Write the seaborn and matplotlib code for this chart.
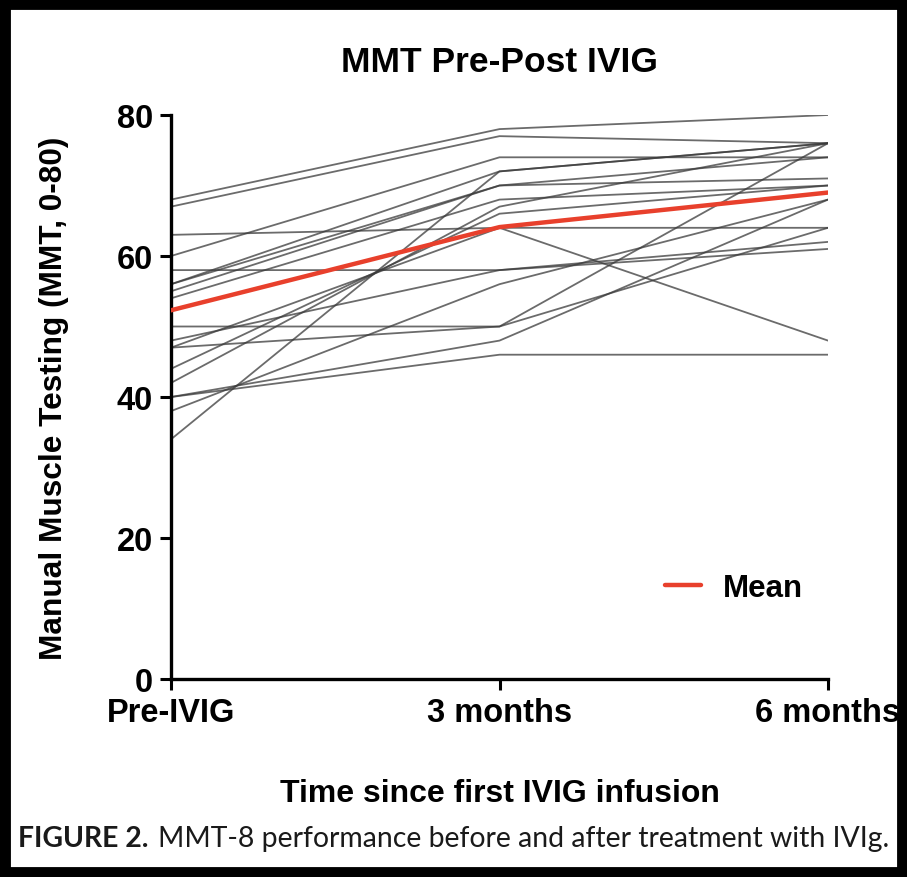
import matplotlib
matplotlib.use("Agg")
import matplotlib.pyplot as plt
import seaborn as sns
import pandas as pd
from matplotlib.patches import Rectangle

# ---- data ----
timepoints = ["Pre-IVIG", "3 months", "6 months"]
pre_ivig = [68, 67, 63, 60, 58, 56, 56, 55, 54, 50, 48, 47, 44, 42, 40, 38, 34, 47, 40]
month_3 = [78, 77, 64, 74, 58, 72, 70, 70, 68, 50, 58, 64, 66, 67, 46, 56, 72, 50, 48]
month_6 = [80, 76, 64, 74, 62, 76, 74, 71, 70, 76, 61, 48, 70, 76, 46, 68, 76, 64, 68]
mean_values = [52.3, 64.1, 69.0]
y_ticks = [0, 20, 40, 60, 80]

rows = []
for sid, vals in enumerate(zip(pre_ivig, month_3, month_6)):
    for t, v in enumerate(vals):
        rows.append({"subject": sid, "time": t, "MMT": v})
df = pd.DataFrame(rows)
mean_df = pd.DataFrame({"time": [0, 1, 2], "MMT": mean_values})

sns.set_theme(style="ticks")
plt.rcParams["font.family"] = ["Liberation Sans", "DejaVu Sans"]
plt.rcParams["font.weight"] = "bold"
plt.rcParams["text.color"] = "black"
plt.rcParams["axes.labelcolor"] = "black"
plt.rcParams["xtick.color"] = "black"
plt.rcParams["ytick.color"] = "black"

fig = plt.figure(figsize=(9.07, 8.78), dpi=100)
ax = fig.add_axes([171 / 907, 198 / 878, (828 - 171) / 907, (680 - 116) / 878])

sns.lineplot(data=df, x="time", y="MMT", units="subject", estimator=None,
             color="#3a3a3a", alpha=0.75, linewidth=1.3, ax=ax, legend=False)
sns.lineplot(data=mean_df, x="time", y="MMT", color="#e8402c", linewidth=3.2,
             ax=ax, label="Mean", zorder=5)

ax.set_xlim(0, 2)
ax.set_ylim(0, 80)
ax.set_xticks([0, 1, 2])
ax.set_xticklabels(timepoints)
ax.set_yticks(y_ticks)
for s in ["top", "right"]:
    ax.spines[s].set_visible(False)
for s in ["left", "bottom"]:
    ax.spines[s].set_linewidth(2.4)
    ax.spines[s].set_color("black")
    ax.spines[s].set_clip_on(False)
ax.tick_params(axis="both", direction="out", length=8, width=2.2, color="black",
               labelcolor="black", labelsize=23.5, pad=5)
for lab in ax.get_xticklabels() + ax.get_yticklabels():
    lab.set_fontweight("bold")

ax.set_title("MMT Pre-Post IVIG", fontsize=25.5, fontweight="bold", pad=32, color="black")
ax.set_xlabel("Time since first IVIG infusion", fontsize=23, fontweight="bold",
              labelpad=36, color="black")
ax.set_ylabel("Manual Muscle Testing (MMT, 0-80)", fontsize=22.8, fontweight="bold",
              labelpad=34, color="black")

leg = ax.legend(loc="lower right", bbox_to_anchor=(1.005, 0.085), frameon=False,
                fontsize=22.5, handlelength=1.15, handletextpad=0.7)
for t in leg.get_texts():
    t.set_fontweight("bold")
    t.set_color("black")

# caption
cap_font = ["Lato", "DejaVu Sans"]
t1 = fig.text(18 / 907, 1 - 839 / 878, "FIGURE 2.", fontsize=20.4, fontweight="bold",
              family=cap_font, va="center", ha="left", color="#1a1a1a")
fig.canvas.draw()
bb = t1.get_window_extent()
x2 = (bb.x1 + 10) / fig.bbox.width
fig.text(x2, 1 - 839 / 878, "MMT-8 performance before and after treatment with IVIg.",
         fontsize=20.4, fontweight="normal", family=cap_font, va="center", ha="left",
         color="#1a1a1a")

# figure border
fig.patches.append(Rectangle((0, 0), 1, 1, transform=fig.transFigure, fill=False,
                             edgecolor="black", linewidth=15, zorder=10))

fig.savefig("out.png", dpi=100)
